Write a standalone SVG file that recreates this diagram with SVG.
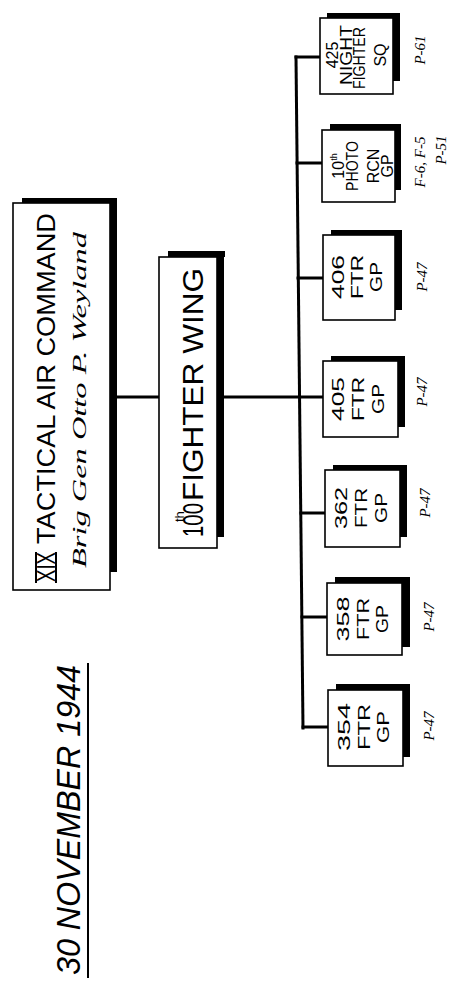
<svg xmlns="http://www.w3.org/2000/svg" width="458" height="994" viewBox="0 0 458 994">
<style>
.box{fill:#fff;stroke:#000;stroke-width:1.6}
.sh{fill:#000}
.conn{stroke:#000;stroke-width:3;fill:none;stroke-linecap:square}
.t{font-family:"Liberation Sans",Arial,sans-serif;fill:#000}
.u{font-family:"Liberation Sans",Arial,sans-serif;fill:#000;font-size:16px;text-anchor:middle}
.h{font-family:"Liberation Serif","Times New Roman",serif;font-style:italic;fill:#000}
.lbl{font-family:"Liberation Serif","Times New Roman",serif;font-style:italic;fill:#000;font-size:15px;text-anchor:middle}
</style>
<rect width="458" height="994" fill="#fff"/>

<g id="date">
<text class="t" font-style="italic" font-size="34" transform="translate(80,975) rotate(-90)" textLength="310" lengthAdjust="spacingAndGlyphs">30 NOVEMBER 1944</text>
<line x1="88" y1="663" x2="88" y2="978" stroke="#000" stroke-width="2"/>
</g>

<g id="connectors">
<line class="conn" x1="117" y1="397" x2="159" y2="397"/>
<line class="conn" x1="224" y1="397" x2="323" y2="397"/>
<line class="conn" x1="296" y1="57" x2="303" y2="728"/>
<line class="conn" x1="296" y1="57" x2="320" y2="57"/>
<line class="conn" x1="297" y1="163" x2="322" y2="163"/>
<line class="conn" x1="298" y1="278" x2="323" y2="278"/>
<line class="conn" x1="301" y1="513" x2="325" y2="513"/>
<line class="conn" x1="302" y1="617" x2="327" y2="617"/>
<line class="conn" x1="303" y1="727" x2="328" y2="727"/>
</g>

<g id="xix">
<rect class="sh" x="22" y="198" width="95" height="6"/>
<rect class="sh" x="110" y="198" width="7" height="374"/>
<rect class="box" x="13" y="203" width="97" height="387"/>
<text class="t" font-size="25" transform="translate(55,582) rotate(-90)" textLength="30" lengthAdjust="spacingAndGlyphs">XIX</text>
<line x1="56" y1="552" x2="56" y2="583" stroke="#000" stroke-width="2"/>
<line x1="36" y1="552" x2="36" y2="583" stroke="#000" stroke-width="2"/>
<text class="t" font-size="25" transform="translate(55,544) rotate(-90)" textLength="331" lengthAdjust="spacingAndGlyphs">TACTICAL AIR COMMAND</text>
<text class="h" font-size="19" transform="translate(86,568) rotate(-90)" textLength="336" lengthAdjust="spacingAndGlyphs">Brig Gen Otto P. Weyland</text>
</g>

<g id="wing">
<rect class="sh" x="168" y="251" width="57" height="6"/>
<rect class="sh" x="217" y="251" width="7" height="286"/>
<rect class="box" x="159" y="257" width="58" height="291"/>
<text class="t" font-size="30" transform="translate(203,537) rotate(-90)" textLength="34" lengthAdjust="spacingAndGlyphs">100</text>
<text class="t" font-size="13" transform="translate(184,522) rotate(-90)">th</text>
<text class="t" font-size="30" transform="translate(203,501) rotate(-90)" textLength="233" lengthAdjust="spacingAndGlyphs">FIGHTER WING</text>
</g>

<g id="g425">
<rect class="sh" x="327" y="13" width="73" height="6"/>
<rect class="sh" x="393" y="13" width="7" height="68"/>
<rect class="box" x="320" y="18" width="73" height="76"/>
<text class="u" font-size="15" transform="translate(338,55) rotate(-90)">425</text>
<text class="u" font-size="13" transform="translate(352,55) rotate(-90)" textLength="60" lengthAdjust="spacingAndGlyphs">NIGHT</text>
<text class="u" font-size="9" transform="translate(365,58) rotate(-90)" textLength="62" lengthAdjust="spacingAndGlyphs">FIGHTER</text>
<text class="u" font-size="15" transform="translate(386,55) rotate(-90)">SQ</text>
<text class="lbl" transform="translate(425,50) rotate(-90)">P-61</text>
</g>

<g id="g10">
<rect class="sh" x="330" y="124" width="70" height="6"/>
<rect class="sh" x="395" y="124" width="6" height="66"/>
<rect class="box" x="322" y="130" width="73" height="72"/>
<text class="u" font-size="15" transform="translate(344,166) rotate(-90)">10<tspan font-size="9" dy="-7">th</tspan></text>
<text class="u" font-size="9" transform="translate(358,166) rotate(-90)" textLength="50" lengthAdjust="spacingAndGlyphs">PHOTO</text>
<text class="u" font-size="15" transform="translate(379,166) rotate(-90)">RCN</text>
<text class="u" font-size="14" transform="translate(393,166) rotate(-90)">GP</text>
<text class="lbl" transform="translate(425,162) rotate(-90)">F-6, F-5</text>
<text class="lbl" transform="translate(446,150) rotate(-90)">P-51</text>
</g>

<g id="g406">
<rect class="sh" x="331" y="230" width="71" height="6"/>
<rect class="sh" x="395" y="230" width="7" height="80"/>
<rect class="box" x="323" y="235" width="72" height="85"/>
<text class="u" transform="translate(344,277) rotate(-90)" textLength="44" lengthAdjust="spacingAndGlyphs">406</text>
<text class="u" transform="translate(363,277) rotate(-90)" textLength="44" lengthAdjust="spacingAndGlyphs">FTR</text>
<text class="u" transform="translate(382,277) rotate(-90)" textLength="30" lengthAdjust="spacingAndGlyphs">GP</text>
<text class="lbl" transform="translate(427,277) rotate(-90)">P-47</text>
</g>

<g id="g405">
<rect class="sh" x="331" y="356" width="73" height="6"/>
<rect class="sh" x="398" y="356" width="7" height="71"/>
<rect class="box" x="323" y="361" width="75" height="76"/>
<text class="u" transform="translate(344,399) rotate(-90)" textLength="44" lengthAdjust="spacingAndGlyphs">405</text>
<text class="u" transform="translate(364,399) rotate(-90)" textLength="44" lengthAdjust="spacingAndGlyphs">FTR</text>
<text class="u" transform="translate(384,399) rotate(-90)" textLength="30" lengthAdjust="spacingAndGlyphs">GP</text>
<text class="lbl" transform="translate(427,392) rotate(-90)">P-47</text>
</g>

<g id="g362">
<rect class="sh" x="333" y="465" width="74" height="6"/>
<rect class="sh" x="400" y="465" width="7" height="72"/>
<rect class="box" x="325" y="470" width="75" height="77"/>
<text class="u" transform="translate(347,508) rotate(-90)" textLength="42" lengthAdjust="spacingAndGlyphs">362</text>
<text class="u" transform="translate(367,508) rotate(-90)" textLength="40" lengthAdjust="spacingAndGlyphs">FTR</text>
<text class="u" transform="translate(387,508) rotate(-90)" textLength="30" lengthAdjust="spacingAndGlyphs">GP</text>
<text class="lbl" transform="translate(430,503) rotate(-90)">P-47</text>
</g>

<g id="g358">
<rect class="sh" x="335" y="577" width="75" height="7"/>
<rect class="sh" x="402" y="577" width="8" height="70"/>
<rect class="box" x="327" y="583" width="75" height="72"/>
<text class="u" transform="translate(349,619) rotate(-90)" textLength="45" lengthAdjust="spacingAndGlyphs">358</text>
<text class="u" transform="translate(369,619) rotate(-90)" textLength="42" lengthAdjust="spacingAndGlyphs">FTR</text>
<text class="u" transform="translate(388,619) rotate(-90)" textLength="28" lengthAdjust="spacingAndGlyphs">GP</text>
<text class="lbl" transform="translate(434,617) rotate(-90)">P-47</text>
</g>

<g id="g354">
<rect class="sh" x="336" y="684" width="74" height="7"/>
<rect class="sh" x="403" y="684" width="7" height="73"/>
<rect class="box" x="328" y="690" width="75" height="76"/>
<text class="u" transform="translate(350,727) rotate(-90)" textLength="48" lengthAdjust="spacingAndGlyphs">354</text>
<text class="u" transform="translate(370,727) rotate(-90)" textLength="46" lengthAdjust="spacingAndGlyphs">FTR</text>
<text class="u" transform="translate(389,727) rotate(-90)" textLength="32" lengthAdjust="spacingAndGlyphs">GP</text>
<text class="lbl" transform="translate(434,726) rotate(-90)">P-47</text>
</g>
</svg>
